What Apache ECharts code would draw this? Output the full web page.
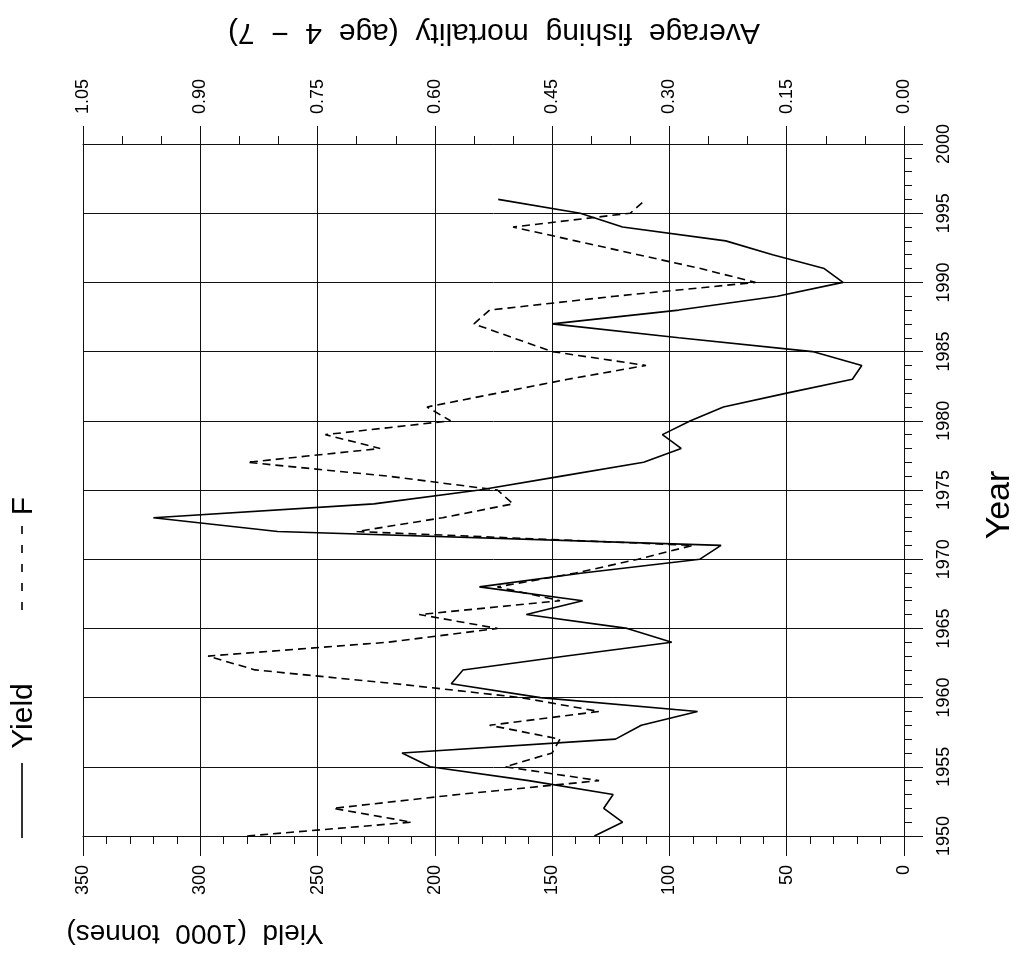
<!DOCTYPE html>
<html>
<head>
<meta charset="utf-8">
<script src="https://cdn.jsdelivr.net/npm/echarts@6/dist/echarts.min.js"></script>
<style>
html,body{margin:0;padding:0;background:#fff;}
#chart{width:1017px;height:955px;}
</style>
</head>
<body>
<div id="chart"></div>
<script>
// Data
const years = [1950,1951,1952,1953,1954,1955,1956,1957,1958,1959,
  1960,1961,1962,1963,1964,1965,1966,1967,1968,1969,
  1970,1971,1972,1973,1974,1975,1976,1977,1978,1979,
  1980,1981,1982,1983,1984,1985,1986,1987,1988,1989,
  1990,1991,1992,1993,1994,1995,1996];
const yieldValues = [132,120,128,124,160,202,214,123,112,88,
  155,193,188,144,99,118,161,137,181,137,
  87,78,267,320,226,181,146,111,95,103,
  91,77,50,22,18,39,96,150,96,54,
  26,34,56,76,120,138,173];
const fValues = [0.84,0.63,0.73,0.57,0.39,0.51,0.45,0.44,0.53,0.39,
  0.49,0.65,0.83,0.89,0.66,0.52,0.62,0.44,0.52,0.42,
  0.34,0.27,0.70,0.59,0.50,0.52,0.66,0.84,0.67,0.74,
  0.58,0.61,0.52,0.43,0.33,0.45,0.50,0.55,0.53,0.37,
  0.19,0.26,0.34,0.42,0.50,0.35,0.33];
const yieldTicks = {min:0, max:350, interval:50};
const fTicks = {min:0, max:1.05, interval:0.15};
const yearTicks = {min:1950, max:2000, interval:5};
const texts = {
  yieldTitle: 'Yield  (1000  tonnes)',
  fTitle: 'Average  fishing  mortality  (age  4  \u2212  7)',
  yearTitle: 'Year',
  legYield: 'Yield',
  legF: 'F'
};

const FONT = '"Liberation Sans", Arial, sans-serif';
const ink = '#111';
const chart = echarts.init(document.getElementById('chart'), null, {renderer:'canvas'});

const tickStyle = {color: ink, width: 1};
const labelBase = {color: '#000', fontSize: 18, fontFamily: FONT, rotate: 90};

const option = {
  backgroundColor: '#fff',
  animation: false,
  grid: {left: 83, right: 113, top: 144, bottom: 119, containLabel: false},
  xAxis: [
    {
      type: 'value', position: 'bottom', inverse: true,
      min: yieldTicks.min, max: yieldTicks.max, interval: yieldTicks.interval,
      axisLine: {show: true, onZero: false, lineStyle: {color: ink, width: 1}},
      axisTick: {show: true, inside: false, length: 20, lineStyle: tickStyle},
      minorTick: {show: true, splitNumber: 5, length: 8, lineStyle: tickStyle},
      axisLabel: Object.assign({}, labelBase, {margin: 29, formatter: v => String(v)}),
      splitLine: {show: true, lineStyle: {color: ink, width: 1}},
      minorSplitLine: {show: false}
    },
    {
      type: 'value', position: 'top', inverse: true,
      min: fTicks.min, max: fTicks.max, interval: fTicks.interval,
      axisLine: {show: true, onZero: false, lineStyle: {color: ink, width: 1}},
      axisTick: {show: true, inside: false, length: 18, lineStyle: tickStyle},
      minorTick: {show: true, splitNumber: 3, length: 8, lineStyle: tickStyle},
      axisLabel: Object.assign({}, labelBase, {rotate: -90, margin: 30, formatter: v => v.toFixed(2)}),
      splitLine: {show: false}
    }
  ],
  yAxis: [
    {
      type: 'value', position: 'right',
      min: yearTicks.min, max: yearTicks.max, interval: yearTicks.interval,
      axisLine: {show: true, onZero: false, lineStyle: {color: ink, width: 1}},
      axisTick: {show: true, inside: false, length: 19, lineStyle: tickStyle},
      minorTick: {show: true, splitNumber: 5, length: 8, lineStyle: tickStyle},
      axisLabel: Object.assign({}, labelBase, {margin: 31, formatter: v => String(v)}),
      splitLine: {show: true, lineStyle: {color: ink, width: 1}}
    }
  ],
  series: [
    {
      name: texts.legYield, type: 'line', xAxisIndex: 0, yAxisIndex: 0,
      symbol: 'none', smooth: false,
      lineStyle: {color: '#000', width: 1.6, type: 'solid'},
      data: years.map((yr, i) => [yieldValues[i], yr])
    },
    {
      name: texts.legF, type: 'line', xAxisIndex: 1, yAxisIndex: 0,
      symbol: 'none', smooth: false,
      lineStyle: {color: '#000', width: 1.6, type: [8, 5]},
      data: years.map((yr, i) => [fValues[i], yr])
    }
  ],
  graphic: [
    {type: 'text', x: 494, y: 32, rotation: Math.PI, silent: true,
     style: {text: texts.fTitle, font: '30px ' + FONT, fill: '#000', align: 'center', verticalAlign: 'middle'}},
    {type: 'text', x: 195, y: 933, rotation: Math.PI, silent: true,
     style: {text: texts.yieldTitle, font: '28px ' + FONT, fill: '#000', align: 'center', verticalAlign: 'middle'}},
    {type: 'text', x: 1000, y: 505, rotation: Math.PI / 2, silent: true,
     style: {text: texts.yearTitle, font: '34px ' + FONT, fill: '#000', align: 'center', verticalAlign: 'middle'}},
    {type: 'line', silent: true, shape: {x1: 22, y1: 838, x2: 22, y2: 763},
     style: {stroke: '#000', lineWidth: 1.6}},
    {type: 'text', x: 24, y: 716, rotation: Math.PI / 2, silent: true,
     style: {text: texts.legYield, font: '30px ' + FONT, fill: '#000', align: 'center', verticalAlign: 'middle'}},
    {type: 'line', silent: true, shape: {x1: 22, y1: 610, x2: 22, y2: 518},
     style: {stroke: '#000', lineWidth: 1.6, lineDash: [8, 11]}},
    {type: 'text', x: 24, y: 506, rotation: Math.PI / 2, silent: true,
     style: {text: texts.legF, font: '30px ' + FONT, fill: '#000', align: 'center', verticalAlign: 'middle'}}
  ]
};
chart.setOption(option);
</script>
</body>
</html>
